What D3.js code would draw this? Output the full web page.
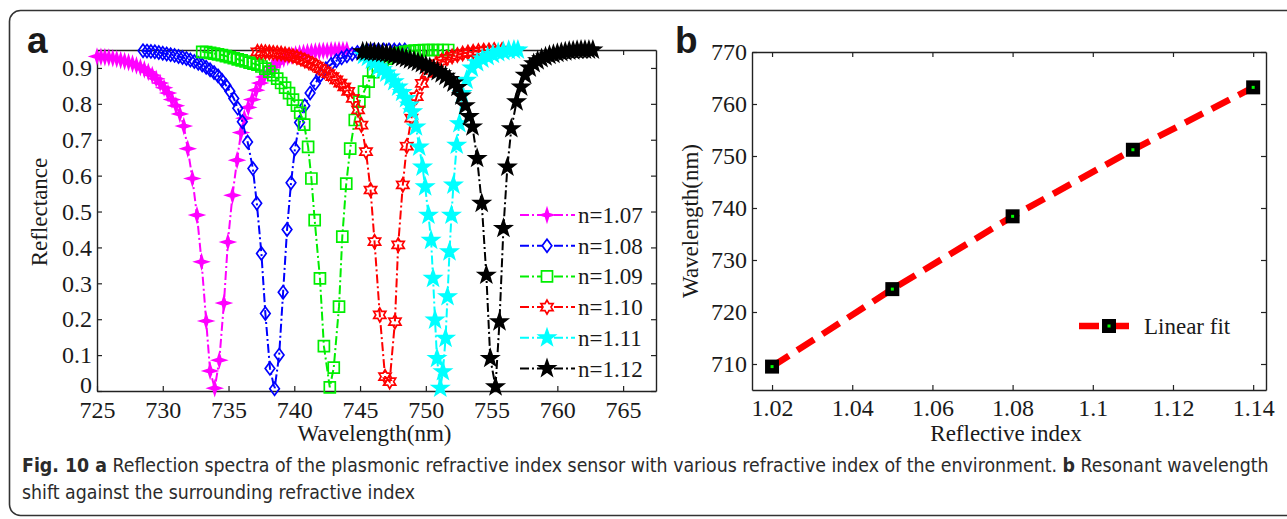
<!DOCTYPE html>
<html>
<head>
<meta charset="utf-8">
<script src="https://cdn.jsdelivr.net/npm/d3@7"></script>
<style>
	body { margin: 0; background: #fff; }
	svg text { font-family: "Liberation Serif", "Times New Roman", serif; fill: #1a1a1a; }
	.caption text { font-family: "Liberation Sans Narrow", "DejaVu Sans Condensed", "Roboto", sans-serif; fill: #2b2b2b; }
</style>
</head>
<body>
<svg id="chart" width="1287" height="519"></svg>
<script>
// ---------------- data ----------------
var seriesNames = ["n=1.07", "n=1.08", "n=1.09", "n=1.10", "n=1.11", "n=1.12"];

// [wavelength (nm), reflectance]
var n107 = [[725.0,0.932],[725.3,0.931],[725.6,0.930],[725.9,0.929],[726.2,0.927],[726.5,0.925],[726.8,0.922],[727.1,0.919],[727.4,0.916],[727.7,0.912],[728.0,0.907],[728.3,0.902],[728.6,0.896],[728.9,0.889],[729.2,0.880],[729.5,0.870],[729.8,0.858],[730.1,0.845],[730.4,0.830],[730.7,0.812],[731.0,0.795],[731.3,0.772],[731.6,0.738],[731.9,0.675],[732.25,0.592],[732.6,0.490],[732.95,0.360],[733.3,0.195],[733.6,0.056],[733.95,0.008],[734.3,0.086],[734.65,0.245],[734.95,0.415],[735.3,0.545],[735.65,0.643],[735.95,0.720],[736.2,0.760],[736.5,0.790],[736.8,0.812],[737.1,0.838],[737.4,0.858],[737.7,0.875],[738.0,0.890],[738.3,0.902],[738.6,0.912],[738.9,0.920],[739.2,0.926],[739.5,0.931],[739.8,0.935],[740.1,0.938],[740.4,0.940],[740.7,0.942],[741.0,0.944],[741.3,0.945],[741.6,0.946],[741.9,0.947],[742.2,0.948],[742.5,0.948],[742.8,0.949],[743.1,0.949],[743.4,0.950],[743.7,0.950],[744.0,0.950]];
var n108 = [[728.5,0.948],[728.8,0.947],[729.1,0.946],[729.4,0.945],[729.7,0.943],[730.0,0.941],[730.3,0.939],[730.6,0.937],[730.9,0.935],[731.2,0.932],[731.5,0.929],[731.8,0.926],[732.1,0.922],[732.4,0.918],[732.7,0.913],[733.0,0.908],[733.3,0.902],[733.6,0.895],[733.9,0.887],[734.2,0.878],[734.5,0.866],[734.8,0.852],[735.1,0.835],[735.4,0.815],[735.7,0.788],[736.05,0.750],[736.45,0.694],[736.85,0.620],[737.15,0.523],[737.5,0.383],[737.8,0.216],[738.15,0.063],[738.5,0.006],[738.85,0.100],[739.15,0.275],[739.45,0.450],[739.75,0.580],[740.05,0.675],[740.4,0.748],[740.8,0.795],[741.2,0.830],[741.6,0.857],[742.0,0.880],[742.4,0.898],[742.8,0.910],[743.2,0.920],[743.6,0.928],[744.0,0.934],[744.4,0.939],[744.8,0.943],[745.2,0.946],[745.6,0.948],[746.0,0.949],[746.4,0.950],[746.8,0.950],[747.2,0.950],[747.6,0.950],[748.0,0.950],[748.4,0.950]];
var n109 = [[733.0,0.945],[733.3,0.944],[733.6,0.942],[733.9,0.940],[734.2,0.938],[734.5,0.936],[734.8,0.933],[735.1,0.930],[735.4,0.927],[735.7,0.924],[736.0,0.921],[736.3,0.918],[736.6,0.915],[736.9,0.912],[737.2,0.909],[737.5,0.904],[737.8,0.898],[738.1,0.890],[738.4,0.880],[738.7,0.870],[739.0,0.858],[739.3,0.845],[739.6,0.830],[739.9,0.812],[740.2,0.795],[740.45,0.775],[740.75,0.742],[741.05,0.680],[741.3,0.592],[741.55,0.476],[741.95,0.314],[742.25,0.125],[742.7,0.010],[743.0,0.065],[743.4,0.235],[743.65,0.430],[743.95,0.578],[744.25,0.675],[744.6,0.755],[744.95,0.806],[745.3,0.834],[745.65,0.862],[746.0,0.888],[746.35,0.905],[746.7,0.917],[747.05,0.926],[747.4,0.933],[747.75,0.938],[748.1,0.942],[748.45,0.945],[748.8,0.947],[749.15,0.948],[749.5,0.949],[749.85,0.950],[750.2,0.950],[750.55,0.950],[750.9,0.950],[751.3,0.950],[751.7,0.950]];
var n110 = [[737.2,0.945],[737.5,0.945],[737.8,0.944],[738.1,0.943],[738.4,0.942],[738.7,0.941],[739.0,0.940],[739.3,0.938],[739.6,0.936],[739.9,0.933],[740.2,0.930],[740.5,0.926],[740.8,0.921],[741.1,0.916],[741.4,0.911],[741.7,0.905],[742.0,0.898],[742.3,0.891],[742.6,0.884],[742.9,0.876],[743.2,0.867],[743.5,0.858],[743.8,0.847],[744.1,0.835],[744.45,0.815],[744.85,0.783],[745.1,0.741],[745.45,0.667],[745.8,0.560],[746.1,0.416],[746.5,0.212],[746.9,0.040],[747.25,0.026],[747.65,0.193],[747.9,0.407],[748.25,0.574],[748.55,0.682],[748.9,0.760],[749.3,0.820],[749.7,0.857],[750.1,0.885],[750.45,0.900],[750.8,0.912],[751.2,0.920],[751.6,0.927],[752.0,0.932],[752.4,0.936],[752.8,0.940],[753.2,0.943],[753.6,0.945],[754.0,0.947],[754.4,0.948],[754.8,0.949],[755.2,0.950],[755.8,0.950]];
var n111 = [[745.3,0.935],[745.6,0.930],[745.9,0.922],[746.1,0.915],[746.4,0.903],[746.7,0.895],[747.0,0.886],[747.3,0.875],[747.6,0.862],[747.9,0.847],[748.2,0.832],[748.5,0.815],[748.75,0.797],[749.0,0.778],[749.25,0.736],[749.5,0.680],[749.75,0.624],[749.95,0.569],[750.2,0.490],[750.4,0.420],[750.55,0.314],[750.7,0.198],[750.85,0.091],[751.1,0.008],[751.3,0.054],[751.5,0.147],[751.65,0.263],[751.8,0.388],[751.95,0.490],[752.1,0.574],[752.35,0.685],[752.55,0.745],[752.75,0.829],[753.1,0.866],[753.5,0.900],[753.9,0.915],[754.3,0.925],[754.7,0.932],[755.1,0.938],[755.5,0.943],[755.9,0.946],[756.3,0.949],[756.7,0.950],[757.0,0.950]];
var n112 = [[745.2,0.945],[745.5,0.945],[745.8,0.944],[746.1,0.943],[746.4,0.942],[746.7,0.941],[747.0,0.940],[747.3,0.938],[747.6,0.935],[747.9,0.932],[748.2,0.929],[748.5,0.926],[748.8,0.923],[749.1,0.920],[749.4,0.916],[749.7,0.912],[750.0,0.907],[750.3,0.902],[750.6,0.896],[750.9,0.890],[751.2,0.884],[751.5,0.877],[751.8,0.868],[752.1,0.858],[752.4,0.846],[752.7,0.822],[753.0,0.795],[753.3,0.765],[753.55,0.736],[753.9,0.648],[754.25,0.523],[754.6,0.323],[754.9,0.091],[755.3,0.012],[755.6,0.193],[755.9,0.453],[756.2,0.624],[756.5,0.731],[756.9,0.806],[757.25,0.847],[757.55,0.880],[757.9,0.900],[758.2,0.912],[758.5,0.920],[758.8,0.926],[759.1,0.931],[759.4,0.935],[759.7,0.938],[760.0,0.941],[760.3,0.943],[760.6,0.945],[760.9,0.947],[761.2,0.948],[761.5,0.949],[761.8,0.950],[762.1,0.950],[762.4,0.950],[762.7,0.950]];

var xTicksA = [725, 730, 735, 740, 745, 750, 755, 760, 765];
var yTicksA = [0, 0.1, 0.2, 0.3, 0.4, 0.5, 0.6, 0.7, 0.8, 0.9];
var yTickLabelsA = ["0", "0.1", "0.2", "0.3", "0.4", "0.5", "0.6", "0.7", "0.8", "0.9"];

var refIndex = [1.02, 1.05, 1.08, 1.11, 1.14];
var resonance = [709.5, 724.4, 738.4, 751.2, 763.2];
var xTicksB = [1.02, 1.04, 1.06, 1.08, 1.10, 1.12, 1.14];
var xTickLabelsB = ["1.02", "1.04", "1.06", "1.08", "1.1", "1.12", "1.14"];
var yTicksB = [710, 720, 730, 740, 750, 760, 770];

// ---------------- drawing ----------------
var svg = d3.select("#chart");

// outer rounded frame (runs off the right edge)
svg.append("rect")
	.attr("x", 9.5).attr("y", 10.5)
	.attr("width", 1320).attr("height", 505)
	.attr("rx", 11).attr("ry", 11)
	.attr("fill", "none")
	.attr("stroke", "#333").attr("stroke-width", 1.6);

// star-like polygon helper (n points, outer / inner radius)
function starPath(n, rOut, rIn) {
	var pts = [];
	for (var i = 0; i < 2 * n; i++) {
		var a = -Math.PI / 2 + i * Math.PI / n;
		var r = i % 2 === 0 ? rOut : rIn;
		pts.push([r * Math.cos(a), r * Math.sin(a)]);
	}
	return "M" + pts.join("L") + "Z";
}
var markerDefs = [
	{ d: starPath(4, 6.5, 2.2), fill: true },
	{ d: "M0,-6.5L4.8,0L0,6.5L-4.8,0Z", fill: false },
	{ d: "M-5.5,-5.5H5.5V5.5H-5.5Z", fill: false },
	{ d: starPath(6, 7, 4), fill: false },
	{ d: starPath(5, 8.5, 3.4), fill: true },
	{ d: starPath(5, 8.5, 3.4), fill: true }
];
var colors = ["#ff00ff", "#0000ff", "#00ee00", "#ff0000", "#00ffff", "#000000"];
var allSeries = [n107, n108, n109, n110, n111, n112];

// ---- panel a ----
var A = { left: 97, top: 50, right: 656, bottom: 391 };
var xA = d3.scaleLinear().domain([725, 767.5]).range([A.left, A.right]);
var yA = d3.scaleLinear().domain([0, 0.95]).range([A.bottom, A.top]);

function styleAxis(g, size) {
	g.selectAll("path.domain").attr("stroke", "#222").attr("stroke-width", 1.4);
	g.selectAll(".tick line").attr("stroke", "#222").attr("stroke-width", 1.2);
	g.selectAll(".tick text").style("font-size", size + "px")
		.style("font-family", "'Liberation Serif', 'Times New Roman', serif").attr("fill", "#1a1a1a");
}

var gA = svg.append("g");
gA.append("g").attr("transform", "translate(0," + A.bottom + ")")
	.call(d3.axisBottom(xA).tickValues(xTicksA).tickSize(-5).tickSizeOuter(0).tickPadding(10).tickFormat(d3.format("d")))
	.call(styleAxis, 24);
gA.append("g").attr("transform", "translate(0," + A.top + ")")
	.call(d3.axisTop(xA).tickValues(xTicksA).tickSize(-5).tickSizeOuter(0).tickFormat(""))
	.call(styleAxis, 24);
gA.append("g").attr("transform", "translate(" + A.left + ",0)")
	.call(d3.axisLeft(yA).tickValues(yTicksA).tickSize(-5).tickSizeOuter(0).tickPadding(5)
		.tickFormat(function(d, i) { return yTickLabelsA[i]; }))
	.call(styleAxis, 24);
gA.append("g").attr("transform", "translate(" + A.right + ",0)")
	.call(d3.axisRight(yA).tickValues(yTicksA).tickSize(-5).tickSizeOuter(0).tickFormat(""))
	.call(styleAxis, 24);
// the "0" label sits just above the corner, as in the original
gA.selectAll(".tick text").filter(function(d) { return d === 0; }).attr("dy", "0.08em");

var lineA = d3.line()
	.x(function(d) { return xA(d[0]); })
	.y(function(d) { return yA(d[1]); });

allSeries.forEach(function(data, i) {
	var g = gA.append("g");
	g.append("path")
		.attr("d", lineA(data))
		.attr("fill", "none")
		.attr("stroke", colors[i])
		.attr("stroke-width", 2)
		.attr("stroke-dasharray", "9,3,2,3");
	g.selectAll("path.mk").data(data).enter().append("path")
		.attr("class", "mk")
		.attr("d", markerDefs[i].d)
		.attr("transform", function(d) { return "translate(" + xA(d[0]) + "," + yA(d[1]) + ")"; })
		.attr("fill", markerDefs[i].fill ? colors[i] : "none")
		.attr("stroke", colors[i])
		.attr("stroke-width", 1.7);
});

// legend a
var legA = gA.append("g");
seriesNames.forEach(function(name, i) {
	var y = 215 + i * 30.7;
	legA.append("line")
		.attr("x1", 520).attr("x2", 575).attr("y1", y).attr("y2", y)
		.attr("stroke", colors[i]).attr("stroke-width", 2)
		.attr("stroke-dasharray", "9,3,2,3");
	legA.append("path")
		.attr("d", markerDefs[i].d)
		.attr("transform", "translate(547," + y + ")")
		.attr("fill", markerDefs[i].fill ? colors[i] : "#fff")
		.attr("stroke", colors[i]).attr("stroke-width", 1.7);
	legA.append("text")
		.attr("x", 578).attr("y", y + 8)
		.style("font-size", "23px")
		.text(name);
});

gA.append("text")
	.attr("x", (A.left + A.right) / 2 - 2).attr("y", 441)
	.attr("text-anchor", "middle").style("font-size", "23px")
	.text("Wavelength(nm)");
gA.append("text")
	.attr("transform", "translate(47,212) rotate(-90)")
	.attr("text-anchor", "middle").style("font-size", "23px")
	.text("Reflectance");
svg.append("text")
	.attr("x", 27).attr("y", 53)
	.style("font-family", "'Liberation Sans', Arial, sans-serif")
	.style("font-weight", "bold").style("font-size", "37px")
	.text("a");

// ---- panel b ----
var B = { left: 752, top: 52, right: 1266, bottom: 390 };
var xB = d3.scaleLinear().domain([1.015, 1.1432]).range([B.left, B.right]);
var yB = d3.scaleLinear().domain([705, 770]).range([B.bottom, B.top]);

var gB = svg.append("g");
gB.append("g").attr("transform", "translate(0," + B.bottom + ")")
	.call(d3.axisBottom(xB).tickValues(xTicksB).tickSize(-5).tickSizeOuter(0).tickPadding(9)
		.tickFormat(function(d, i) { return xTickLabelsB[i]; }))
	.call(styleAxis, 24);
gB.append("g").attr("transform", "translate(0," + B.top + ")")
	.call(d3.axisTop(xB).tickValues(xTicksB).tickSize(-5).tickSizeOuter(0).tickFormat(""))
	.call(styleAxis, 24);
gB.append("g").attr("transform", "translate(" + B.left + ",0)")
	.call(d3.axisLeft(yB).tickValues(yTicksB).tickSize(-5).tickSizeOuter(0).tickPadding(5).tickFormat(d3.format("d")))
	.call(styleAxis, 24);
gB.append("g").attr("transform", "translate(" + B.right + ",0)")
	.call(d3.axisRight(yB).tickValues(yTicksB).tickSize(-5).tickSizeOuter(0).tickFormat(""))
	.call(styleAxis, 24);

var ptsB = refIndex.map(function(v, i) { return [v, resonance[i]]; });
var lineB = d3.line()
	.x(function(d) { return xB(d[0]); })
	.y(function(d) { return yB(d[1]); });

gB.append("path")
	.attr("d", lineB(ptsB))
	.attr("fill", "none")
	.attr("stroke", "#ff0000")
	.attr("stroke-width", 6.5)
	.attr("stroke-dasharray", "20,10");

function squareMarker(sel) {
	sel.append("rect").attr("x", -7).attr("y", -7).attr("width", 14).attr("height", 14)
		.attr("fill", "#000");
	sel.append("rect").attr("x", -1.5).attr("y", -1.5).attr("width", 3).attr("height", 3)
		.attr("fill", "#00ff00");
}
gB.selectAll("g.pt").data(ptsB).enter().append("g")
	.attr("class", "pt")
	.attr("transform", function(d) { return "translate(" + xB(d[0]) + "," + yB(d[1]) + ")"; })
	.call(squareMarker);

// legend b
gB.append("line")
	.attr("x1", 1079).attr("x2", 1139).attr("y1", 326).attr("y2", 326)
	.attr("stroke", "#ff0000").attr("stroke-width", 6.5)
	.attr("stroke-dasharray", "20,10");
gB.append("g").attr("transform", "translate(1109,326)").call(squareMarker);
gB.append("text")
	.attr("x", 1144).attr("y", 334)
	.style("font-size", "23px")
	.text("Linear fit");

gB.append("text")
	.attr("x", (B.left + B.right) / 2 - 3).attr("y", 441)
	.attr("text-anchor", "middle").style("font-size", "23px")
	.text("Reflective index");
gB.append("text")
	.attr("transform", "translate(698,221) rotate(-90)")
	.attr("text-anchor", "middle").style("font-size", "23px")
	.text("Wavelength(nm)");
svg.append("text")
	.attr("x", 675).attr("y", 53)
	.style("font-family", "'Liberation Sans', Arial, sans-serif")
	.style("font-weight", "bold").style("font-size", "37px")
	.text("b");

// ---- caption ----
// one common horizontal squeeze so the first line spans the panel width
var cap = svg.append("g").attr("class", "caption");
var line1 = cap.append("text").attr("x", 0).attr("y", 472)
	.style("font-size", "19px");
line1.append("tspan").style("font-weight", "bold").text("Fig. 10 a");
line1.append("tspan").text(" Reflection spectra of the plasmonic refractive index sensor with various refractive index of the environment. ");
line1.append("tspan").style("font-weight", "bold").text("b");
line1.append("tspan").text(" Resonant wavelength");
cap.append("text").attr("x", 0).attr("y", 499)
	.style("font-size", "19px")
	.text("shift against the surrounding refractive index");
var natural = line1.node().getComputedTextLength();
var sx = 1248 / natural;
cap.attr("transform", "translate(22,0) scale(" + sx + ",1)");
</script>
</body>
</html>
